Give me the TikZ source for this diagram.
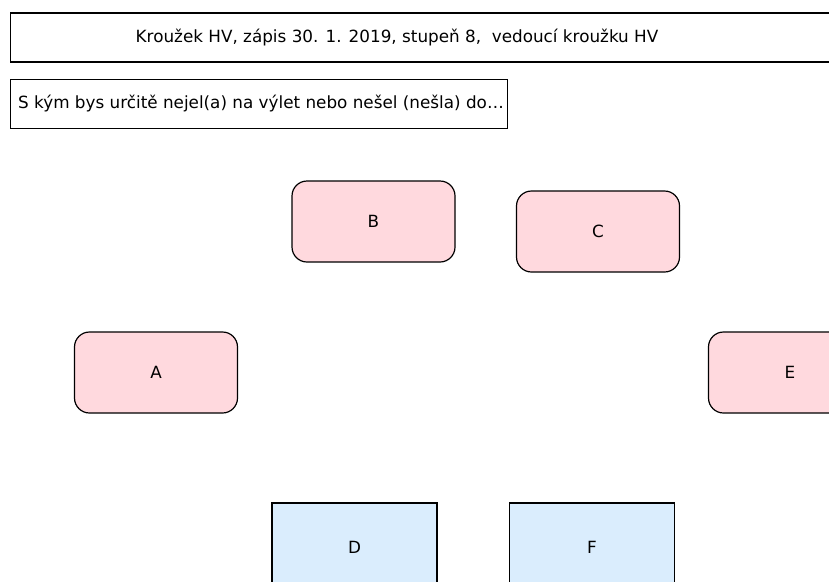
\documentclass[tikz,border=0pt]{standalone}
\usepackage{fontspec}
\setmainfont{DejaVu Sans}
\usepackage{tikz}
\usetikzlibrary{positioning}

\definecolor{pinkfill}{HTML}{FFD9DE}
\definecolor{bluefill}{HTML}{DAEDFD}

\begin{document}
\begin{tikzpicture}[
    x=1pt, y=-1pt,
    font=\fontsize{16.8}{20}\selectfont,
    headbox/.style={rectangle, draw, line width=1.1pt, minimum height=49pt, inner sep=0pt},
    kid/.style={rectangle, draw, line width=1.2pt, rounded corners=15pt, fill=pinkfill, minimum width=163pt, minimum height=81pt},
    leader/.style={rectangle, draw, line width=1.2pt, fill=bluefill, minimum width=165pt, minimum height=88pt}
]
    \useasboundingbox (0,0) rectangle (829,581);
    \clip (0,0) rectangle (829,581);

    \node[headbox, minimum width=840pt, anchor=west] (head) at (10,37.5) {};
    \node (headtext) at (397,37.5) {Kroužek HV, zápis 30. 1. 2019, stupeň 8,\ \ vedoucí kroužku HV};

    \node[headbox, minimum width=497pt, anchor=west] (question) at (10,104) {};
    \begin{scope}
        \clip (question.south west) rectangle (question.north east);
        \node[anchor=west, inner sep=0pt] (questiontext) at (18,104) {S kým bys určitě nejel(a) na výlet nebo nešel (nešla) do…};
    \end{scope}

    \node[kid] (B) at (373.5,221.5) {B};
    \node[kid] (C) at (598,231.5) {C};
    \node[kid] (A) at (156,372.5) {A};
    \node[kid] (E) at (790,372.5) {E};

    \node[leader] (D) at (354.5,547) {D};
    \node[leader] (F) at (592,547) {F};
\end{tikzpicture}
\end{document}
